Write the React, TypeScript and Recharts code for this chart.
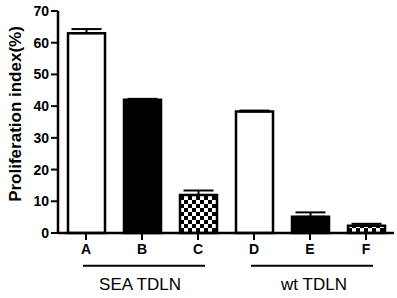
import React from 'react';
import { BarChart, Bar, XAxis, YAxis, ErrorBar, Cell, ReferenceLine } from 'recharts';

const categories = ['A', 'B', 'C', 'D', 'E', 'F'];
const values = [63, 42, 12, 38.3, 5.1, 2.3];
const errors = [1.3, 0.3, 1.4, 0.3, 1.4, 0.6];
const fills = ['#ffffff', '#000000', 'url(#checker)', '#ffffff', '#000000', 'url(#checker)'];
const yTicks = [0, 10, 20, 30, 40, 50, 60, 70];
const groupLabels = ['SEA TDLN', 'wt TDLN'];
const groupFrom = ['A', 'D'];
const groupTo = ['C', 'F'];
const groupLineValue = -10.3;

const labelShift: Record<string, number> = { 'SEA TDLN': -4, 'wt TDLN': 2 };

const data = categories.map((c, i) => ({ name: c, value: values[i], err: [0, errors[i]] }));

const FONT = '"Liberation Sans", Arial, Helvetica, sans-serif';

const makeGroupShape = (label: string) => (props: any) => {
  const { x1, y1, x2, y2 } = props;
  const left = Math.min(x1, x2) - 3;
  const right = Math.max(x1, x2) + 7;
  return (
    <g>
      <line x1={left} y1={y1} x2={right} y2={y2} stroke="#000" strokeWidth={2} />
      <text
        x={(left + right) / 2 + (labelShift[label] || 0)}
        y={y1 + 24}
        textAnchor="middle"
        fontFamily={FONT}
        fontSize={17}
        fill="#000"
      >
        {label}
      </text>
    </g>
  );
};

export default function App() {
  return (
    <div style={{ position: 'absolute', left: 0, top: 0, background: '#fff' }}>
      <BarChart width={397} height={298} data={data} margin={{ top: 11, right: 3, bottom: 35, left: 0 }}>
        <defs>
          <pattern id="checker" width="8" height="8" patternUnits="userSpaceOnUse">
            <rect x="0" y="0" width="8" height="8" fill="#fff" />
            <rect x="0" y="0" width="4" height="4" fill="#000" />
            <rect x="4" y="4" width="4" height="4" fill="#000" />
          </pattern>
        </defs>
        <XAxis
          dataKey="name"
          height={30}
          axisLine={{ stroke: '#000', strokeWidth: 2.5 }}
          tickLine={{ stroke: '#000', strokeWidth: 2 }}
          tickSize={7}
          tickMargin={4}
          tick={{ fill: '#000', fontFamily: FONT, fontSize: 14, fontWeight: 'bold' }}
        />
        <YAxis
          width={58}
          domain={[0, 70]}
          ticks={yTicks}
          interval={0}
          axisLine={{ stroke: '#000', strokeWidth: 2.5 }}
          tickLine={{ stroke: '#000', strokeWidth: 2 }}
          tickSize={7}
          tickMargin={2}
          tick={{ fill: '#000', fontFamily: FONT, fontSize: 14, fontWeight: 'bold' }}
          label={{
            content: () => (
              <text
                transform="translate(20.5,114) rotate(-90)"
                textAnchor="middle"
                fontFamily={FONT}
                fontSize={17}
                fontWeight="bold"
                fill="#000"
              >
                Proliferation index(%)
              </text>
            ),
          }}
        />
        <Bar dataKey="value" barSize={37} stroke="#000" strokeWidth={2.5} isAnimationActive={false}>
          {data.map((d, i) => (
            <Cell key={d.name} fill={fills[i]} />
          ))}
          <ErrorBar dataKey="err" width={15} stroke="#000" strokeWidth={2} direction="y" />
        </Bar>
        {groupLabels.map((label, i) => (
          <ReferenceLine
            key={label}
            segment={[
              { x: groupFrom[i], y: groupLineValue },
              { x: groupTo[i], y: groupLineValue },
            ]}
            ifOverflow="visible"
            shape={makeGroupShape(label)}
          />
        ))}
      </BarChart>
    </div>
  );
}
